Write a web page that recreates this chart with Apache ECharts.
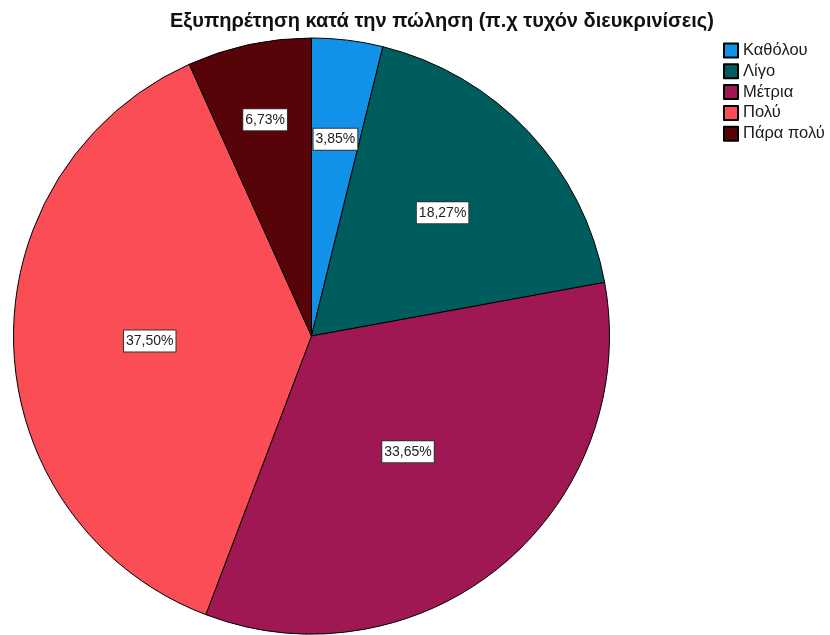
<!DOCTYPE html>
<html>
<head>
<meta charset="utf-8">
<script src="https://cdn.jsdelivr.net/npm/echarts@6/dist/echarts.min.js"></script>
<style>
  html, body { margin: 0; padding: 0; background: #fff; }
  #chart { width: 830px; height: 635px; }
</style>
</head>
<body>
<div id="chart"></div>
<script>
// Answer categories and their shares (%)
const categories = ['Καθόλου', 'Λίγο', 'Μέτρια', 'Πολύ', 'Πάρα πολύ'];
const percents = [3.85, 18.27, 33.65, 37.50, 6.73];
const colors = ['#1192e8', '#005d5d', '#9f1853', '#fa4d56', '#570408'];

// Radial placement of each percentage box, as a fraction of the radius
const labelRadiusFactor = [0.665, 0.604, 0.506, 0.543, 0.742];

const CX = 311.5, CY = 336, R = 298;

const total = percents.reduce((a, b) => a + b, 0);
// mid angle (radians, clockwise from 12 o'clock) of each slice
const midAngles = [];
{
  let acc = 0;
  percents.forEach(v => {
    midAngles.push(((acc + v / 2) / total) * Math.PI * 2);
    acc += v;
  });
}

const fmt = v => v.toFixed(2).replace('.', ',') + '%';

const chart = echarts.init(document.getElementById('chart'), null, { renderer: 'canvas' });
chart.setOption({
  animation: false,
  color: colors,
  title: {
    text: 'Εξυπηρέτηση κατά την πώληση (π.χ τυχόν διευκρινίσεις)',
    left: 165,
    top: 6,
    textStyle: {
      fontFamily: 'Liberation Sans, Arial, sans-serif',
      fontSize: 20,
      fontWeight: 'bold',
      color: '#111'
    }
  },
  legend: {
    orient: 'vertical',
    left: 718,
    top: 37,
    itemWidth: 14,
    itemHeight: 14,
    itemGap: 3.8,
    icon: 'rect',
    data: categories,
    textStyle: {
      fontFamily: 'Liberation Sans, Arial, sans-serif',
      fontSize: 16.5,
      color: '#1a1a1a'
    }
  },
  series: [{
    type: 'pie',
    center: [CX, CY],
    radius: [0, R],
    startAngle: 90,
    clockwise: true,
    avoidLabelOverlap: false,
    itemStyle: { borderColor: '#000', borderWidth: 1 },
    emphasis: { disabled: true },
    labelLine: { show: false },
    label: {
      show: true,
      position: 'inside',
      formatter: p => fmt(p.value),
      fontFamily: 'Liberation Sans, Arial, sans-serif',
      fontSize: 14,
      color: '#222',
      backgroundColor: '#fff',
      borderColor: '#333',
      borderWidth: 1,
      padding: [4, 2, 3, 2]
    },
    labelLayout: p => {
      const i = p.dataIndex;
      const d = labelRadiusFactor[i] * R;
      return {
        x: CX + d * Math.sin(midAngles[i]),
        y: CY - d * Math.cos(midAngles[i]),
        align: 'center',
        verticalAlign: 'middle'
      };
    },
    data: categories.map((c, i) => ({ name: c, value: percents[i] }))
  }]
});
</script>
</body>
</html>
